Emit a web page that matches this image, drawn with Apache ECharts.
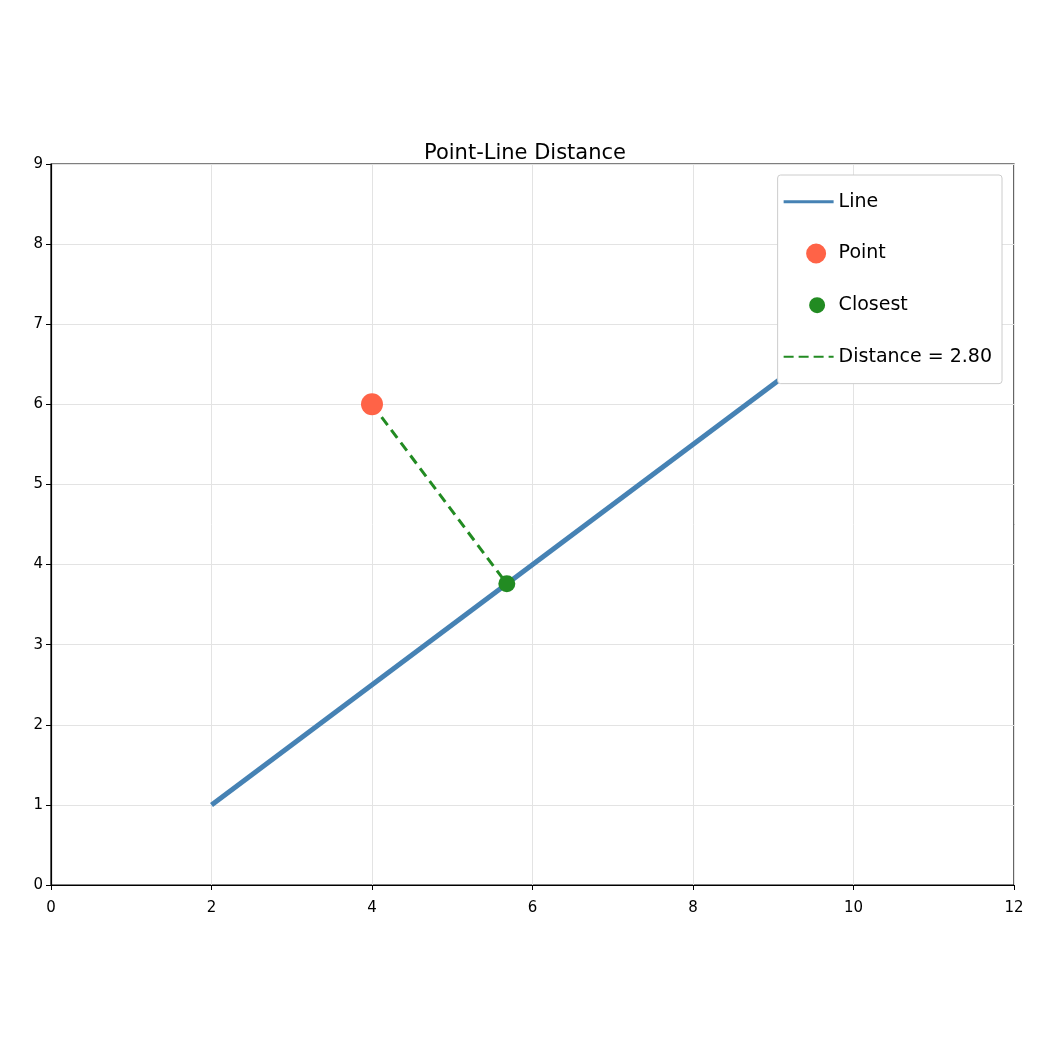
<!DOCTYPE html><html><head><script src="https://cdn.jsdelivr.net/npm/echarts@6/dist/echarts.min.js"></script>
<style>html,body{margin:0;background:#fff}#c{width:1050px;height:1050px}</style></head><body><div id="c"></div><script>
const lineData=[[2,1],[10,7]];
const pointData=[[4,6]];
const closestData=[[5.68,3.76]];
const distData=[[4,6],[5.68,3.76]];
const font='DejaVu Sans';
const ax={axisLine:{onZero:false,lineStyle:{color:'#000',width:1.2}},axisTick:{length:5,lineStyle:{color:'#000'}},
 axisLabel:{color:'#000',fontSize:15,fontFamily:font,margin:8},splitLine:{show:true,lineStyle:{color:'#e3e3e3',width:1}}};
const dot='M0,0h0.01v0.01h-0.01z M0,20h0.01v0.01h-0.01z ';
const c=echarts.init(document.getElementById('c'));
c.setOption({animation:false,textStyle:{fontFamily:font},
title:{text:'Point-Line Distance',left:'center',top:128,textStyle:{fontSize:21,fontWeight:'normal',color:'#000',fontFamily:font}},
grid:{left:51,right:36,top:164,bottom:165,show:true,borderColor:'#000',borderWidth:1.2,backgroundColor:'transparent'},
xAxis:Object.assign({type:'value',min:0,max:12,interval:2},ax),
yAxis:Object.assign({type:'value',min:0,max:9,interval:1},ax),
legend:{orient:'vertical',right:48,top:175,itemGap:14,itemWidth:50,itemHeight:20,backgroundColor:'#fff',borderColor:'#ccc',borderWidth:1,borderRadius:3,padding:[8,10,8,6],
 textStyle:{fontSize:19,color:'#000',fontFamily:font},
 data:[{name:'Line',icon:'path://'+dot+'M0,8.5h50v3h-50z',itemStyle:{color:'#4682b4',opacity:1}},
 {name:'Point',icon:'path://'+dot+'M25,10m-10,0a10,10 0 1,0 20,0a10,10 0 1,0 -20,0',itemStyle:{color:'#ff6347',opacity:1}},
 {name:'Closest',icon:'path://'+dot+'M25,10m-8,0a8,8 0 1,0 16,0a8,8 0 1,0 -16,0',itemStyle:{color:'#228b22',opacity:1}},
 {name:'Distance = 2.80',icon:'path://'+dot+'M0,9h10v2h-10z M15,9h10v2h-10z M30,9h10v2h-10z M45,9h5v2h-5z',itemStyle:{color:'#228b22',opacity:1}}]},
series:[
{name:'Line',type:'line',data:lineData,symbol:'none',lineStyle:{color:'#4682b4',width:5},itemStyle:{color:'#4682b4'},z:2},
{name:'Distance = 2.80',type:'line',data:distData,symbol:'none',lineStyle:{color:'#228b22',width:3,type:[10,6]},itemStyle:{color:'#228b22'},z:3},
{name:'Point',type:'scatter',data:pointData,symbolSize:22,itemStyle:{color:'#ff6347',opacity:1},z:4},
{name:'Closest',type:'scatter',data:closestData,symbolSize:17,itemStyle:{color:'#228b22',opacity:1},z:4}
]});
</script></body></html>
